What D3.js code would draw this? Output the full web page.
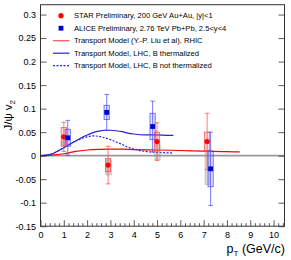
<!DOCTYPE html>
<html><head><meta charset="utf-8">
<script src="https://cdn.jsdelivr.net/npm/d3@7"></script>
<style>html,body{margin:0;padding:0;background:#fff;}svg{display:block;font-family:"Liberation Sans",Arial,sans-serif;}</style>
</head><body>
<svg id="c" width="291" height="260"></svg>
<script>
// ---- data ----
const starPt   = [1.0, 2.9, 5.0, 7.15];
const starV    = [0.040, -0.020, 0.030, 0.030];
const starStat = [0.031, 0.040, 0.040, 0.060];
const starSys  = [0.020, 0.014, 0.020, 0.020];
const starNfHi = [0.040, -0.009, 0.023, 0.012];
const starNfLo = [0.022, -0.041, -0.009, -0.061];

const alicePt   = [1.17, 2.84, 4.81, 7.3];
const aliceV    = [0.038, 0.092, 0.062, -0.028];
const aliceStat = [0.037, 0.038, 0.054, 0.078];
const aliceSys  = [0.018, 0.015, 0.028, 0.038];

const rhicPt = [0, 0.5, 1, 1.5, 2, 2.5, 3, 3.5, 4, 5, 6, 7, 8, 8.55];
const rhicV  = [0, 0.001, 0.004, 0.009, 0.012, 0.0135, 0.014, 0.0138, 0.013, 0.012, 0.011, 0.0095, 0.0085, 0.008];

const lhcPt    = [0, 0.25, 0.5, 0.75, 1, 1.25, 1.5, 1.75, 2, 2.25, 2.5, 2.75, 3, 3.25, 3.5, 3.75, 4, 4.5, 5, 5.5, 5.7];
const lhcThV   = [0, 0.001, 0.004, 0.010, 0.017, 0.024, 0.031, 0.038, 0.044, 0.049, 0.052, 0.054, 0.054, 0.053, 0.051, 0.048, 0.046, 0.044, 0.044, 0.043, 0.043];
const lhcNoThV = [0, 0.001, 0.004, 0.010, 0.017, 0.024, 0.031, 0.036, 0.040, 0.042, 0.041, 0.038, 0.034, 0.029, 0.024, 0.018, 0.014, 0.009, 0.007, 0.006, 0.006];

const xTicks = [0,1,2,3,4,5,6,7,8,9,10];
const yTicks = [-0.15,-0.1,-0.05,0,0.05,0.1,0.15,0.2,0.25,0.3];
const legendLabels = [
  "STAR Preliminary, 200 GeV Au+Au, |y|<1",
  "ALICE Preliminary, 2.76 TeV Pb+Pb, 2.5<y<4",
  "Transport Model (Y.-P. Liu et al), RHIC",
  "Transport Model, LHC, B thermalized",
  "Transport Model, LHC, B not thermalized"
];

// ---- layout ----
const L = 40.5, R = 284.5, T = 4.7, B = 226.2;
const svg = d3.select("#c");
const x = d3.scaleLinear().domain([0, 10.47]).range([L, R]);
const y = d3.scaleLinear().domain([-0.15, 0.321]).range([B, T]);

const RED = "#ff0000", BLUE = "#0000d0";

// zero line
svg.append("line").attr("x1", L).attr("x2", R).attr("y1", y(0)).attr("y2", y(0))
  .attr("stroke", "#999").attr("stroke-width", 1.6);

// curves
const line = d3.line().x(d => x(d[0])).y(d => y(d[1])).curve(d3.curveMonotoneX);
svg.append("path").datum(rhicPt.map((p,i)=>[p, rhicV[i]])).attr("d", line)
  .attr("fill","none").attr("stroke", RED).attr("stroke-width",1.2);
svg.append("path").datum(lhcPt.map((p,i)=>[p, lhcNoThV[i]])).attr("d", line)
  .attr("fill","none").attr("stroke", "#2222dd").attr("stroke-width",1.2).attr("stroke-dasharray","2,1.5");
svg.append("path").datum(lhcPt.map((p,i)=>[p, lhcThV[i]])).attr("d", line)
  .attr("fill","none").attr("stroke", "#2222dd").attr("stroke-width",1.2);

// STAR non-flow gray boxes
const bw = 2.6;
starPt.forEach((p,i)=>{
  svg.append("rect").attr("x", x(p)-bw+0.5).attr("width", 2*bw)
    .attr("y", y(starNfHi[i])).attr("height", y(starNfLo[i]) - y(starNfHi[i]))
    .attr("fill","rgba(150,150,150,0.35)").attr("stroke","rgba(150,150,150,0.6)").attr("stroke-width",0.8);
});

function drawPoints(pts, vs, stat, sys, col, lightCol, fillCol, shape){
  pts.forEach((p,i)=>{
    const cx = x(p), cy = y(vs[i]);
    const g = svg.append("g");
    g.append("rect").attr("x", cx-bw).attr("width", 2*bw)
      .attr("y", y(vs[i]+sys[i])).attr("height", y(vs[i]-sys[i]) - y(vs[i]+sys[i]))
      .attr("fill", fillCol).attr("stroke", lightCol).attr("stroke-width",0.9);
    g.append("line").attr("x1",cx).attr("x2",cx).attr("y1",y(vs[i]+stat[i])).attr("y2",y(vs[i]-stat[i]))
      .attr("stroke", lightCol).attr("stroke-width",0.9);
    [vs[i]+stat[i], vs[i]-stat[i]].forEach(v=>{
      g.append("line").attr("x1",cx-2.3).attr("x2",cx+2.3).attr("y1",y(v)).attr("y2",y(v))
        .attr("stroke", lightCol).attr("stroke-width",0.9);
    });
    if(shape==="circle") g.append("circle").attr("cx",cx).attr("cy",cy).attr("r",2.6).attr("fill",col);
    else g.append("rect").attr("x",cx-2.4).attr("y",cy-2.4).attr("width",4.8).attr("height",4.8).attr("fill",col);
  });
}
drawPoints(starPt, starV, starStat, starSys, RED, "rgba(255,60,60,0.75)", "rgba(255,120,120,0.25)", "circle");
drawPoints(alicePt, aliceV, aliceStat, aliceSys, BLUE, "rgba(70,70,255,0.8)", "rgba(120,120,255,0.2)", "square");

// frame
svg.append("rect").attr("x",L).attr("y",T).attr("width",R-L).attr("height",B-T)
  .attr("fill","none").attr("stroke","#333").attr("stroke-width",1);

// axes
const fmt = d => (+d.toFixed(2)).toString();
const xAxis = d3.axisBottom(x).tickValues(xTicks).tickFormat(d3.format("d")).tickSizeInner(-6).tickSizeOuter(0).tickPadding(5);
svg.append("g").attr("transform",`translate(0,${B})`).call(xAxis);
const minorX = d3.range(0, 10.41, 0.2).filter(v => Math.abs(v - Math.round(v)) > 1e-6);
svg.append("g").attr("transform",`translate(0,${B})`)
  .call(d3.axisBottom(x).tickValues(minorX).tickFormat("").tickSizeInner(-3).tickSizeOuter(0));
const yAxis = d3.axisLeft(y).tickValues(yTicks).tickFormat(fmt).tickSizeInner(-6).tickSizeOuter(0).tickPadding(4.5);
svg.append("g").attr("transform",`translate(${L},0)`).call(yAxis);
svg.append("g").attr("transform",`translate(${R},0)`)
  .call(d3.axisRight(y).tickValues(yTicks).tickFormat("").tickSizeInner(-6).tickSizeOuter(0));
svg.selectAll(".domain").remove();
svg.selectAll(".tick line").attr("stroke","#333").attr("stroke-width",0.8);
svg.selectAll(".tick text").attr("font-family","Liberation Sans, Arial, sans-serif").attr("font-size",9).attr("fill","#000");

// axis titles
const yt = svg.append("text").attr("transform","translate(12,100) rotate(-90)")
  .attr("text-anchor","end").attr("font-size",11.5).attr("fill","#000");
yt.append("tspan").text("J/ψ v");
yt.append("tspan").attr("font-size",8).attr("dy",3).text("2");
const xt = svg.append("text").attr("x",285).attr("y",253).attr("text-anchor","end").attr("font-size",12.5).attr("fill","#000");
xt.append("tspan").text("p");
xt.append("tspan").attr("font-size",8).attr("dy",3).text("T");
xt.append("tspan").attr("dy",-3).text(" (GeV/c)");

// legend
const ly = d3.scaleLinear().domain([0,4]).range([15.7, 65.7]);
const leg = svg.append("g");
legendLabels.forEach((t,i)=>{
  const yy = ly(i);
  leg.append("text").attr("x",74).attr("y",yy+2.6).attr("font-size",7.6).attr("fill","#000").text(t);
});
leg.append("circle").attr("cx",61).attr("cy",ly(0)).attr("r",2.6).attr("fill",RED);
leg.append("rect").attr("x",61-2.4).attr("y",ly(1)-2.4).attr("width",4.8).attr("height",4.8).attr("fill",BLUE);
leg.append("line").attr("x1",53).attr("x2",69.5).attr("y1",ly(2)).attr("y2",ly(2)).attr("stroke","#ff5050").attr("stroke-width",1.2);
leg.append("line").attr("x1",53).attr("x2",69.5).attr("y1",ly(3)).attr("y2",ly(3)).attr("stroke","#2222dd").attr("stroke-width",1.2);
leg.append("line").attr("x1",53).attr("x2",69.5).attr("y1",ly(4)).attr("y2",ly(4)).attr("stroke","#2222dd").attr("stroke-width",1.2).attr("stroke-dasharray","2,1.5");
</script>
</body></html>
